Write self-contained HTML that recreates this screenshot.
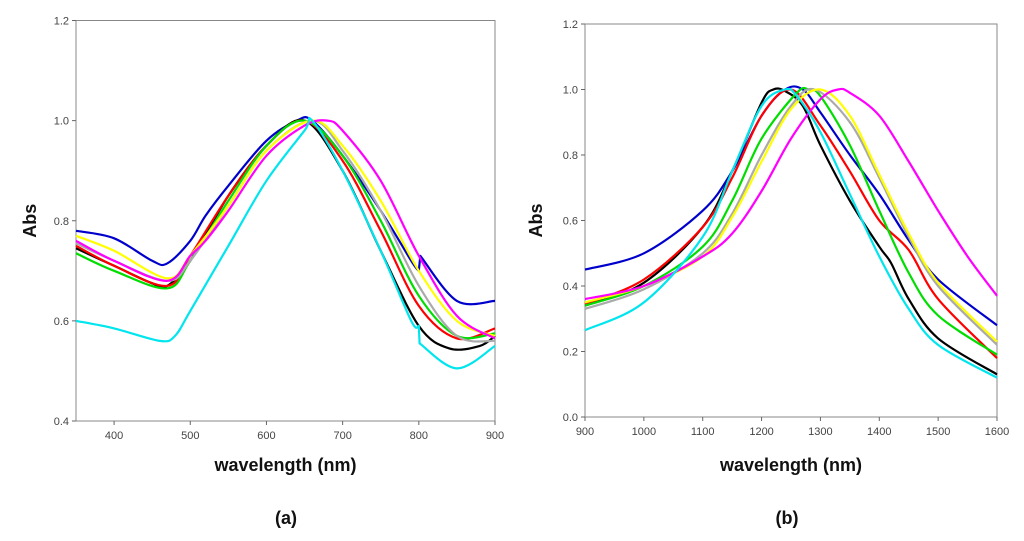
<!DOCTYPE html>
<html><head><meta charset="utf-8"><style>
body{margin:0;background:#fff;}
svg{display:block;font-family:"Liberation Sans",Arial,sans-serif;}
.tk{font-size:11px;fill:#444;}
.ttl{font-size:18px;font-weight:bold;fill:#111;}
</style></head><body>
<svg id="c" width="1024" height="541">
<text class="ttl" x="286" y="524" text-anchor="middle">(a)</text>
<text class="ttl" x="787" y="524" text-anchor="middle">(b)</text>
</svg>
<script>
const colorsA = ['#0000cc','#000000','#ff0000','#00dd00','#aaaaaa','#ffff00','#ff00ff','#00e5ee'];
const namesA = ['blue','black','red','green','gray','yellow','magenta','cyan'];
const wlA = [
[350,400,450,470,500,520,550,600,640,660,700,750,790,800,802,850,900],
[350,400,450,470,500,550,600,650,700,750,800,840,880,900],
[350,400,470,500,550,600,650,700,750,800,850,900],
[350,400,470,500,550,600,650,700,750,800,850,900],
[350,400,470,500,550,600,660,700,750,800,850,900],
[350,400,470,500,550,600,660,700,750,800,850,900],
[350,400,470,500,520,550,600,650,680,700,750,800,850,900],
[350,400,460,480,500,550,600,650,660,700,750,790,800,801,850,900]];
const absA = [
[0.78,0.765,0.72,0.715,0.76,0.81,0.87,0.96,1.0,1.0,0.93,0.82,0.72,0.70,0.73,0.64,0.64],
[0.745,0.71,0.675,0.67,0.72,0.85,0.95,1.0,0.9,0.74,0.59,0.545,0.55,0.57],
[0.75,0.71,0.67,0.73,0.85,0.95,1.0,0.92,0.78,0.63,0.565,0.585],
[0.735,0.70,0.665,0.72,0.84,0.95,1.0,0.93,0.8,0.65,0.57,0.575],
[0.755,0.72,0.68,0.72,0.83,0.94,1.0,0.94,0.82,0.67,0.57,0.56],
[0.77,0.74,0.685,0.73,0.83,0.94,1.0,0.95,0.84,0.70,0.60,0.57],
[0.76,0.72,0.68,0.73,0.76,0.82,0.93,0.99,1.0,0.98,0.88,0.73,0.61,0.565],
[0.60,0.585,0.56,0.57,0.62,0.75,0.88,0.98,1.0,0.9,0.74,0.6,0.59,0.555,0.505,0.55]];
const ticksAX = [400,500,600,700,800,900];
const ticksAY = [0.4,0.6,0.8,1.0,1.2];

const colorsB = ['#0000cc','#000000','#ff0000','#00dd00','#aaaaaa','#ffff00','#ff00ff','#00e5ee'];
const wlB = [
[900,1000,1100,1150,1200,1240,1270,1300,1350,1400,1450,1500,1600],
[900,1000,1100,1150,1200,1220,1240,1270,1300,1350,1400,1420,1450,1500,1600],
[900,1000,1100,1150,1200,1250,1300,1350,1400,1450,1500,1600],
[900,1000,1100,1150,1200,1260,1280,1300,1350,1400,1450,1500,1600],
[900,1000,1100,1150,1200,1250,1290,1350,1400,1450,1500,1600],
[900,1000,1100,1150,1200,1250,1300,1350,1400,1450,1500,1600],
[900,1000,1100,1150,1200,1250,1300,1330,1350,1400,1450,1500,1550,1600],
[900,1000,1100,1150,1200,1240,1260,1300,1350,1400,1450,1500,1600]];
const absB = [
[0.45,0.50,0.63,0.75,0.92,1.0,1.0,0.93,0.8,0.68,0.54,0.42,0.28],
[0.34,0.41,0.58,0.75,0.96,1.0,0.995,0.95,0.83,0.66,0.52,0.47,0.36,0.24,0.13],
[0.345,0.42,0.58,0.73,0.92,1.0,0.89,0.75,0.6,0.51,0.36,0.18],
[0.34,0.40,0.52,0.66,0.85,0.99,1.0,0.98,0.83,0.63,0.44,0.31,0.19],
[0.33,0.39,0.50,0.62,0.80,0.95,1.0,0.90,0.73,0.55,0.40,0.22],
[0.35,0.40,0.49,0.61,0.78,0.94,1.0,0.92,0.74,0.56,0.41,0.23],
[0.36,0.40,0.49,0.56,0.69,0.85,0.97,1.0,0.99,0.92,0.78,0.63,0.49,0.37],
[0.265,0.35,0.55,0.75,0.95,1.0,0.98,0.87,0.68,0.49,0.33,0.22,0.12]];
const ticksBX = [900,1000,1100,1200,1300,1400,1500,1600];
const ticksBY = [0.0,0.2,0.4,0.6,0.8,1.0,1.2];

const svg = document.getElementById('c');
const NS = 'http://www.w3.org/2000/svg';
function mk(tag, attrs){const e=document.createElementNS(NS,tag);for(const k in attrs)e.setAttribute(k,attrs[k]);svg.appendChild(e);return e;}

function smooth(pts){
  let d='M'+pts[0][0].toFixed(1)+','+pts[0][1].toFixed(1);
  const n=pts.length;
  const brk=i=>i>=0&&i<n-1&&(pts[i+1][0]-pts[i][0])<5;
  for(let i=0;i<n-1;i++){
    const p1=pts[i],p2=pts[i+1];
    if(brk(i)){d+=' L'+p2[0].toFixed(1)+','+p2[1].toFixed(1);continue;}
    const p0=(i>0&&!brk(i-1))?pts[i-1]:p1;
    const p3=(i+2<n&&!brk(i+1))?pts[i+2]:p2;
    const c1=[p1[0]+(p2[0]-p0[0])/6,p1[1]+(p2[1]-p0[1])/6];
    const c2=[p2[0]-(p3[0]-p1[0])/6,p2[1]-(p3[1]-p1[1])/6];
    d+=' C'+c1[0].toFixed(1)+','+c1[1].toFixed(1)+' '+c2[0].toFixed(1)+','+c2[1].toFixed(1)+' '+p2[0].toFixed(1)+','+p2[1].toFixed(1);
  }
  return d;
}

function chart(p){
  const sx=v=>p.x0+(v-p.xmin)/(p.xmax-p.xmin)*(p.x1-p.x0);
  const sy=v=>p.y1-(v-p.ymin)/(p.ymax-p.ymin)*(p.y1-p.y0);
  const fr=mk('rect',{x:p.x0,y:p.y0,width:p.x1-p.x0,height:p.y1-p.y0,fill:'none',stroke:'#888','stroke-width':1});
  
  
  p.tx.forEach(v=>{
    const l=mk('line',{x1:sx(v),x2:sx(v),y1:p.y1,y2:p.y1+4,stroke:'#666'});
    
    
    const t=mk('text',{x:sx(v),y:p.y1+18,'text-anchor':'middle',class:'tk'});t.textContent=v;
    
    
  });
  p.ty.forEach(v=>{
    const l=mk('line',{x1:p.x0-4,x2:p.x0,y1:sy(v),y2:sy(v),stroke:'#666'});
    
    
    const t=mk('text',{x:p.x0-7,y:sy(v)+4,'text-anchor':'end',class:'tk'});t.textContent=v.toFixed(1);
    
    
  });
  p.xs.forEach((xs,i)=>{
    const pts=xs.map((x,j)=>[sx(x),sy(p.ys[i][j])]);
    const path=mk('path',{d:smooth(pts),fill:'none',stroke:p.colors[i],'stroke-width':2.2,'stroke-linejoin':'round'});
    
    
  });
  const xt=mk('text',{x:(p.x0+p.x1)/2,y:p.tly,'text-anchor':'middle',class:'ttl'});xt.textContent='wavelength (nm)';
  
  
  const yt=mk('text',{x:0,y:0,'text-anchor':'middle',class:'ttl',transform:'translate('+p.ylx+','+((p.y0+p.y1)/2)+') rotate(-90)'});yt.textContent='Abs';
  
  
}
chart({id:'panel-a',x0:76,x1:495,y0:20.5,y1:421,xmin:350,xmax:900,ymin:0.4,ymax:1.2,tx:ticksAX,ty:ticksAY,xs:wlA,ys:absA,colors:colorsA,ylx:36,tly:471});
chart({id:'panel-b',x0:585,x1:997,y0:24,y1:417,xmin:900,xmax:1600,ymin:0,ymax:1.2,tx:ticksBX,ty:ticksBY,xs:wlB,ys:absB,colors:colorsB,ylx:542,tly:471});
</script>
</body></html>
